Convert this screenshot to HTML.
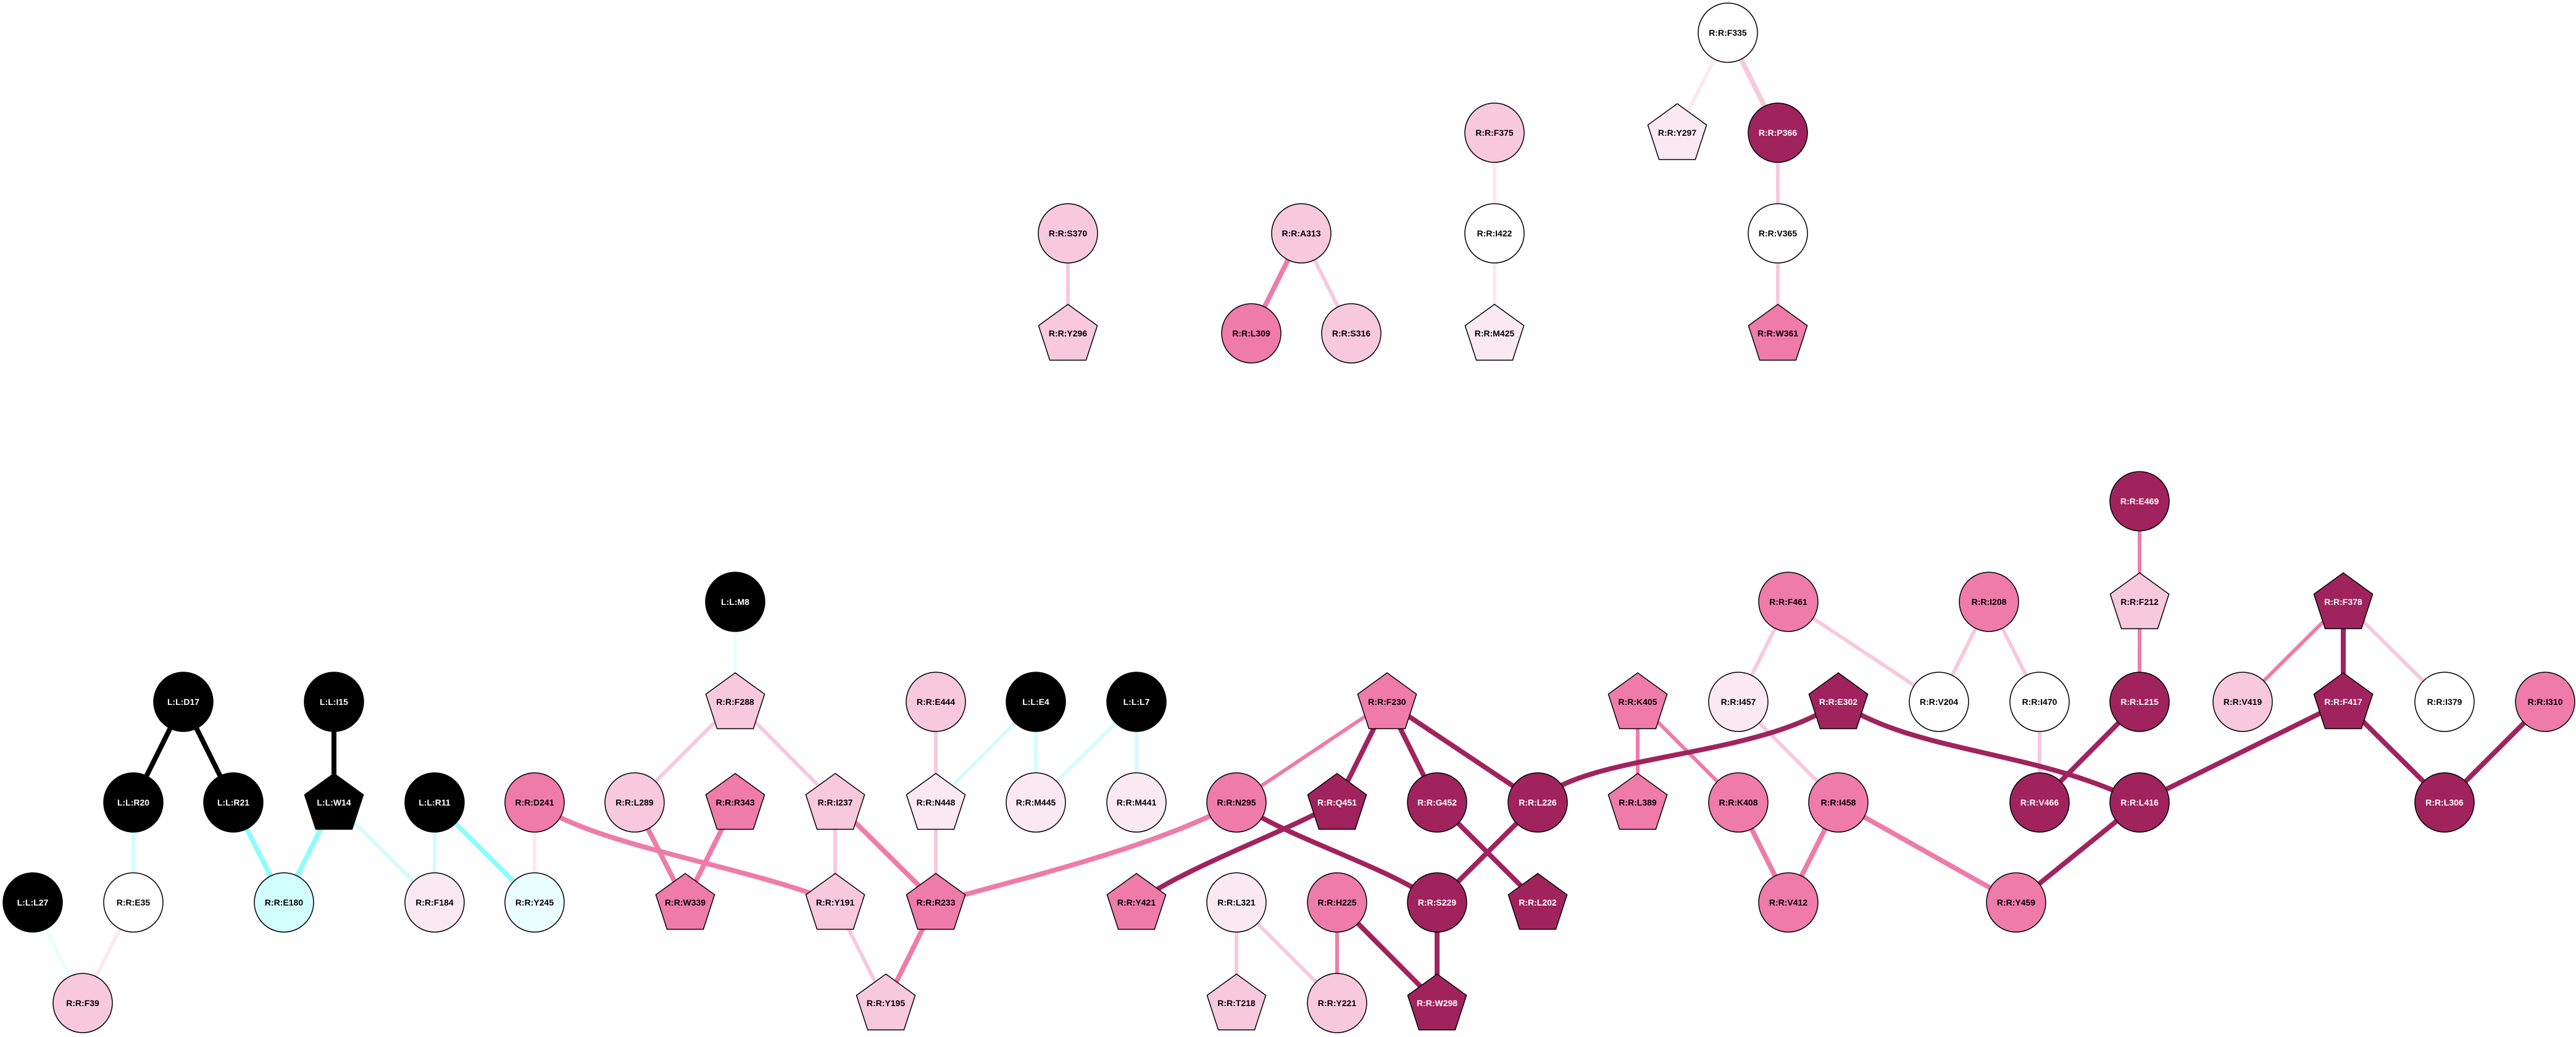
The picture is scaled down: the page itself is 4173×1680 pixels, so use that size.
<!DOCTYPE html>
<html><head><meta charset="utf-8"><style>html,body{margin:0;padding:0;background:#fff}svg{display:block}text{font-family:"Liberation Sans",sans-serif;font-weight:bold;font-size:14px;text-anchor:middle;dominant-baseline:central}</style></head><body>
<svg id="s" width="4173" height="1680" viewBox="0 0 4173 1680" xmlns="http://www.w3.org/2000/svg">
<g id="edges" fill="none" stroke-linecap="butt"></g>
<g id="nodes"></g>
</svg>
<script>
const D="#a0235e",M="#ef7ba9",L="#f8c8dc",V="#fbe9f1",W="#ffffff",B="#000000";
const N={
L27:[53,1462,'c',B],F39:[134,1625,'c',L],R20:[216,1300,'c',B],E35:[216,1462,'c',W],D17:[297,1137,'c',B],R21:[378,1300,'c',B],
E180:[460,1462,'c','#d1fdfd'],I15:[541,1137,'c',B],W14:[541,1300,'p',B],R11:[704,1300,'c',B],F184:[704,1462,'c',V],
Y245:[866,1462,'c','#e9fefe'],D241:[866,1300,'c',M],M8:[1191,975,'c',B],F288:[1191,1137,'p',L],L289:[1028,1300,'c',L],
R343:[1191,1300,'p',M],W339:[1110,1462,'p',M],I237:[1353,1300,'p',L],Y191:[1353,1462,'p',L],Y195:[1435,1625,'p',L],
E444:[1516,1137,'c',L],N448:[1516,1300,'p',V],R233:[1516,1462,'p',M],E4:[1678,1137,'c',B],M445:[1678,1300,'c',V],
L7:[1841,1137,'c',B],M441:[1841,1300,'c',V],N295:[2003,1300,'c',M],Y421:[1841,1462,'p',M],L321:[2003,1462,'c',V],
T218:[2003,1625,'p',L],F230:[2247,1137,'p',M],Q451:[2166,1300,'p',D],H225:[2166,1462,'c',M],Y221:[2166,1625,'c',L],
G452:[2328,1300,'c',D],S229:[2328,1462,'c',D],W298:[2328,1625,'p',D],L226:[2491,1300,'c',D],L202:[2491,1462,'p',D],
K405:[2653,1137,'p',M],L389:[2653,1300,'p',M],F461:[2897,975,'c',M],I457:[2816,1137,'c',V],K408:[2816,1300,'c',M],
E302:[2978,1137,'p',D],I458:[2978,1300,'c',M],V412:[2897,1462,'c',M],V204:[3141,1137,'c',W],I208:[3222,975,'c',M],
I470:[3304,1137,'c',W],Y459:[3266,1462,'c',M],V466:[3304,1300,'c',D],E469:[3466,812,'c',D],F212:[3466,975,'p',L],
L215:[3466,1137,'c',D],L416:[3466,1300,'c',D],V419:[3633,1137,'c',L],F378:[3796,975,'p',D],F417:[3796,1137,'p',D],
I379:[3960,1137,'c',W],L306:[3960,1300,'c',D],I310:[4123,1137,'c',M],
F335:[2799,53,'c',W],Y297:[2717,215,'p',V],P366:[2880,215,'c',D],V365:[2880,378,'c',W],W361:[2880,540,'p',M],
F375:[2421,215,'c',L],I422:[2421,378,'c',W],M425:[2421,540,'p',V],S370:[1730,378,'c',L],Y296:[1730,540,'p',L],
A313:[2108,378,'c',L],L309:[2027,540,'c',M],S316:[2189,540,'c',L]};
const LN=new Set(['L27','R20','D17','R21','I15','W14','R11','M8','E4','L7']);
const E=[
['F335','Y297',V,6],['F335','P366',L,8],['P366','V365',L,6],['V365','W361',L,6],['F375','I422',V,6],['I422','M425',V,6],
['S370','Y296',L,6],['A313','L309',M,8],['A313','S316',L,6],
['D17','R20',B,8],['D17','R21',B,8],['I15','W14',B,8],['R20','E35','#d3fcfc',6],['R21','E180','#8efcfc',8],['W14','E180','#8efcfc',8],
['W14','F184','#d3fcfc',6],['R11','F184','#d3fcfc',6],['R11','Y245','#8efcfc',8],['L27','F39','#e9fefe',6],['E35','F39',V,6],
['D241','Y245',V,6],['M8','F288','#e9fefe',6],['F288','L289',L,6],['F288','I237',L,6],['L289','W339',M,8],['R343','W339',M,8],
['I237','Y191',L,6],['I237','R233',M,8],['Y191','Y195',L,6],['R233','Y195',M,8],['E444','N448',L,6],['N448','R233',L,6],
['E4','N448','#d3fcfc',6],['E4','M445','#d3fcfc',6],['L7','M445','#d3fcfc',6],['L7','M441','#d3fcfc',6],
['F230','N295',M,6],['F230','Q451',D,8],['F230','G452',D,8],['F230','L226',D,8],['G452','L202',D,8],['L226','S229',D,8],
['S229','W298',D,8],['H225','W298',D,8],['H225','Y221',M,6],['L321','T218',L,6],['L321','Y221',L,6],
['K405','L389',M,6],['K405','K408',M,6],['F461','I457',L,6],['F461','V204',L,6],['I457','I458',L,6],['K408','V412',M,8],
['I458','V412',M,8],['I458','Y459',M,8],['I208','V204',L,6],['I208','I470',L,6],['I470','V466',L,6],
['E469','F212',M,6],['F212','L215',M,6],['L215','V466',D,8],['L416','Y459',D,8],['F378','V419',M,6],['F378','F417',D,8],
['F378','I379',L,6],['F417','L416',D,8],['F417','L306',D,8],['I310','L306',D,8]];
const C=[
['M866,1300 C960,1370 1200,1400 1353,1462',M],
['M1516,1462 C1650,1425 1880,1370 2003,1300',M],
['M2003,1300 C2090,1360 2240,1400 2328,1462',D],
['M2166,1300 C2080,1350 1930,1400 1841,1462',D],
['M2491,1300 C2560,1220 2850,1230 2978,1137',D],
['M2978,1137 C3100,1220 3300,1215 3466,1300',D]];
const ns="http://www.w3.org/2000/svg",ge=document.getElementById('edges'),gn=document.getElementById('nodes');
function el(t,a,p){const e=document.createElementNS(ns,t);for(const k in a)e.setAttribute(k,a[k]);p.appendChild(e);return e;}
E.forEach(([a,b,c,w])=>el('line',{x1:N[a][0],y1:N[a][1],x2:N[b][0],y2:N[b][1],stroke:c,'stroke-width':w},ge));
C.forEach(([d,c])=>el('path',{d:d,stroke:c,'stroke-width':8},ge));
for(const k in N){const[x,y,s,f]=N[k];
 if(s==='c')el('circle',{cx:x,cy:y,r:48,fill:f,stroke:'#000','stroke-width':1.5},gn);
 else{let p=[];for(let i=0;i<5;i++){const a=-Math.PI/2+i*2*Math.PI/5;p.push((x+50*Math.cos(a)).toFixed(1)+','+(y+3+50*Math.sin(a)).toFixed(1));}
  el('polygon',{points:p.join(' '),fill:f,stroke:'#000','stroke-width':1.5},gn);}
 const t=el('text',{x:x,y:y,fill:(f===B||f===D)?'#fff':'#000'},gn);
 t.textContent=(LN.has(k)?'L:L:':'R:R:')+k;}
</script>
</body></html>
